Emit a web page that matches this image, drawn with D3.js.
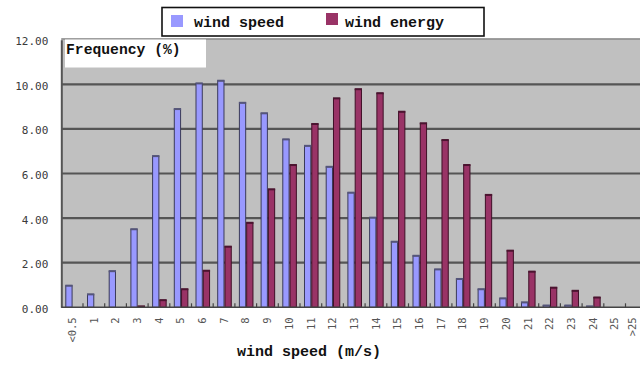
<!DOCTYPE html>
<html>
<head>
<meta charset="utf-8">
<script src="https://cdn.jsdelivr.net/npm/d3@7"></script>
<style>
  html, body { margin: 0; padding: 0; background: #fff; }
  svg { display: block; }
</style>
</head>
<body>
<svg id="chart" width="640" height="365"></svg>
<script>
// Wind speed classes (m/s)
const categories = ["<0.5", "1", "2", "3", "4", "5", "6", "7", "8", "9", "10", "11", "12",
  "13", "14", "15", "16", "17", "18", "19", "20", "21", "22", "23", "24", "25", ">25"];

// Frequency (%) of each class
const windSpeed = [0.97, 0.58, 1.62, 3.5, 6.78, 8.89, 10.04, 10.16, 9.17, 8.7, 7.53, 7.24, 6.3,
  5.14, 4.02, 2.94, 2.31, 1.7, 1.27, 0.81, 0.4, 0.22, 0.08, 0.08, 0.04, 0, 0];
const windEnergy = [0, 0, 0, 0.04, 0.32, 0.81, 1.64, 2.72, 3.79, 5.29, 6.38, 8.22, 9.37,
  9.78, 9.6, 8.77, 8.25, 7.5, 6.38, 5.04, 2.54, 1.6, 0.88, 0.74, 0.44, 0, 0];

const seriesNames = ["wind speed", "wind energy"];
const seriesColors = ["#9999FF", "#993366"];
const seriesEdges = ["#3a3a5a", "#3e0f26"];
const seriesCaps = ["#55557a", "#4c1430"];
const yTicks = [0, 2, 4, 6, 8, 10, 12];

const svg = d3.select("#chart");
const plot = { left: 61.3, top: 38.5, bottom: 307.3 };

const x = d3.scaleBand()
  .domain(categories)
  .range([plot.left, plot.left + 21.7 * categories.length])
  .paddingInner(0).paddingOuter(0);

const xInner = d3.scaleBand()
  .domain(seriesNames)
  .range([0, x.bandwidth()])
  .paddingInner(0).paddingOuter(0.49).align(0.56);

const y = d3.scaleLinear().domain([0, 12]).range([plot.bottom, 39.7]);

// Plot area background
svg.append("rect")
  .attr("x", plot.left).attr("y", plot.top)
  .attr("width", 640 - plot.left).attr("height", plot.bottom - plot.top)
  .attr("fill", "#C0C0C0");

// Horizontal gridlines
svg.append("g")
  .selectAll("line")
  .data(yTicks.filter(t => t > 0 && t < 12))
  .join("line")
  .attr("x1", plot.left).attr("x2", 640)
  .attr("y1", d => y(d)).attr("y2", d => y(d))
  .attr("stroke", "#555").attr("stroke-width", 2.2);

// Top edge of the plot
svg.append("line")
  .attr("x1", plot.left).attr("x2", 640)
  .attr("y1", plot.top + 0.5).attr("y2", plot.top + 0.5)
  .attr("stroke", "#8a8a8a").attr("stroke-width", 1.5);

// Y axis
const yAxis = d3.axisLeft(y)
  .tickValues(yTicks)
  .tickSize(0)
  .tickPadding(13)
  .tickFormat(d3.format(".2f"));
const gy = svg.append("g")
  .attr("transform", `translate(${plot.left},0)`)
  .call(yAxis);
gy.select(".domain").attr("stroke", "#555").attr("stroke-width", 2);
gy.selectAll("text")
  .attr("font-family", "'DejaVu Sans Mono', monospace")
  .attr("font-size", 11)
  .attr("fill", "#3a3a3a")
  .attr("dy", "0.45em");

// Bars
const rows = categories.map((c, i) => ({ cat: c, values: [windSpeed[i], windEnergy[i]] }));
const groups = svg.append("g")
  .selectAll("g")
  .data(rows)
  .join("g")
  .attr("transform", d => `translate(${x(d.cat)},0)`);

groups.selectAll("rect.bar")
  .data(d => d.values.map((v, k) => ({ v, k })).filter(e => e.v > 0))
  .join("rect")
  .attr("class", "bar")
  .attr("x", e => xInner(seriesNames[e.k]) + 0.5)
  .attr("width", xInner.bandwidth() - 1)
  .attr("y", e => y(e.v))
  .attr("height", e => y(0) - y(e.v))
  .attr("fill", e => seriesColors[e.k])
  .attr("stroke", e => seriesEdges[e.k])
  .attr("stroke-width", 1);

// Dark top face of each column
groups.selectAll("rect.cap")
  .data(d => d.values.map((v, k) => ({ v, k })).filter(e => e.v > 0))
  .join("rect")
  .attr("class", "cap")
  .attr("x", e => xInner(seriesNames[e.k]))
  .attr("width", xInner.bandwidth())
  .attr("y", e => y(e.v) - 1)
  .attr("height", e => Math.min(2, y(0) - y(e.v) + 1))
  .attr("fill", e => seriesCaps[e.k]);

// X axis baseline and category ticks
const xAxis = d3.axisBottom(x).tickSize(0).tickPadding(0);
const gx = svg.append("g")
  .attr("transform", `translate(0,${plot.bottom})`)
  .call(xAxis);
gx.select(".domain").remove();
svg.append("line")
  .attr("x1", plot.left).attr("x2", 640)
  .attr("y1", plot.bottom).attr("y2", plot.bottom)
  .attr("stroke", "#444").attr("stroke-width", 1.5);
svg.append("g")
  .selectAll("line")
  .data(categories.slice(1))
  .join("line")
  .attr("x1", d => x(d)).attr("x2", d => x(d))
  .attr("y1", plot.bottom - 4).attr("y2", plot.bottom)
  .attr("stroke", "#444").attr("stroke-width", 1.2);

// Rotated category labels; the last one is nudged inside the page edge
gx.selectAll(".tick text")
  .attr("font-family", "'DejaVu Sans Mono', monospace")
  .attr("font-size", 10.5)
  .attr("fill", "#555")
  .attr("text-anchor", "end")
  .attr("transform", (d, i, n) => `translate(${i === n.length - 1 ? -4 : 0},10) rotate(-90)`)
  .attr("x", 0).attr("y", 0)
  .attr("dy", "0.35em");

// Axis title
svg.append("text")
  .attr("x", 309).attr("y", 356)
  .attr("text-anchor", "middle")
  .attr("font-family", "'Liberation Mono', monospace")
  .attr("font-weight", "bold")
  .attr("font-size", 15)
  .attr("fill", "#111")
  .text("wind speed (m/s)");

// Y title box
svg.append("rect")
  .attr("x", 65).attr("y", 39.5)
  .attr("width", 141).attr("height", 28)
  .attr("fill", "#fff");
svg.append("text")
  .attr("x", 66).attr("y", 53.5)
  .attr("font-family", "'Liberation Mono', monospace")
  .attr("font-weight", "bold")
  .attr("font-size", 14.7)
  .attr("fill", "#111")
  .text("Frequency (%)");

// Legend
const legend = svg.append("g");
legend.append("rect")
  .attr("x", 162).attr("y", 7.5)
  .attr("width", 322).attr("height", 28.5)
  .attr("fill", "#fff")
  .attr("stroke", "#111").attr("stroke-width", 1.6);
const legendItems = [
  { sx: 171, tx: 194, name: seriesNames[0], color: seriesColors[0], sy: 15 },
  { sx: 326, tx: 345, name: seriesNames[1], color: seriesColors[1], sy: 13 }
];
legendItems.forEach(it => {
  legend.append("rect")
    .attr("x", it.sx).attr("y", it.sy)
    .attr("width", 12).attr("height", 12)
    .attr("fill", it.color);
  legend.append("text")
    .attr("x", it.tx).attr("y", 26.5)
    .attr("font-family", "'Liberation Mono', monospace")
    .attr("font-weight", "bold")
    .attr("font-size", 15)
    .attr("fill", "#111")
    .text(it.name);
});
</script>
</body>
</html>
